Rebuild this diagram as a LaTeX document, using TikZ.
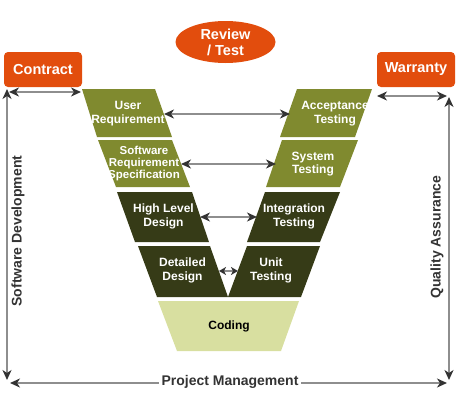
\documentclass[tikz,border=0pt]{standalone}
\usepackage{fontspec}
\setmainfont{Liberation Sans}
\usetikzlibrary{arrows.meta,shapes.geometric}
\definecolor{org}{HTML}{E24D0D}
\definecolor{oliv}{HTML}{808A2F}
\definecolor{darkoliv}{HTML}{363B17}
\definecolor{codec}{HTML}{D8DFA0}
\definecolor{linegray}{HTML}{8E8E8E}
\definecolor{headgray}{HTML}{333333}
\definecolor{txtgray}{HTML}{333333}
\begin{document}
\begin{tikzpicture}[x=1pt,y=-1pt,
  lbl/.style={text=white,font=\bfseries\fontsize{12}{13.5}\selectfont,align=center,inner sep=0pt},
  lblsm/.style={text=white,font=\bfseries\fontsize{11.5}{12}\selectfont,align=center,inner sep=0pt},
  obox/.style={fill=org,text=white,rounded corners=4pt,minimum width=78pt,minimum height=35pt,inner sep=0pt,font=\bfseries\fontsize{14.5}{16}\selectfont},
  side/.style={text=txtgray,font=\bfseries\fontsize{14}{16}\selectfont,inner sep=1pt},
  conn/.style={draw=linegray,line width=1.8pt,{Stealth[length=10pt,width=9pt,inset=3pt,color=headgray]}-{Stealth[length=10pt,width=9pt,inset=3pt,color=headgray]}},
  connsm/.style={draw=linegray,line width=1.8pt,{Stealth[length=7pt,width=8pt,inset=2pt,color=headgray]}-{Stealth[length=7pt,width=8pt,inset=2pt,color=headgray]}}
]
\useasboundingbox (0,0) rectangle (459,410);

% top boxes
\node[obox] (contract) at (43,69.5) {Contract};
\node[obox] (warranty) at (416,69.5) {Warranty};
\node[ellipse,fill=org,text=white,minimum width=100pt,minimum height=42pt,inner sep=0pt,align=center,font=\bfseries\fontsize{14.5}{16}\selectfont] (review) at (225.5,42) {Review\\/ Test};

% V shapes - left
\fill[oliv] (82,89) -- (155,89) -- (172,137) -- (97,137) -- cycle;
\fill[oliv] (98,140) -- (172,140) -- (190,187) -- (116,187) -- cycle;
\fill[darkoliv] (117,192) -- (192,192) -- (209,242) -- (135,242) -- cycle;
\fill[darkoliv] (138,246) -- (210,246) -- (228,297) -- (157,297) -- cycle;
% right
\fill[oliv] (297,89) -- (372,89) -- (355,137) -- (280,137) -- cycle;
\fill[oliv] (282,140) -- (358,140) -- (340,187) -- (266,187) -- cycle;
\fill[darkoliv] (265,192) -- (340,192) -- (320,242) -- (247,242) -- cycle;
\fill[darkoliv] (247,246) -- (320,246) -- (301,297) -- (228,297) -- cycle;
% coding
\fill[codec] (158,301) -- (299,301) -- (281,351) -- (177,351) -- cycle;

% labels
\node[lbl] (ur) at (128,113.5) {User\\Requirement};
\node[lblsm] (srs) at (144,164) {Software\\Requirement\\Specification};
\node[lbl] (hld) at (163.5,216.5) {High Level\\Design};
\node[lbl] (dd) at (182.5,270.5) {Detailed\\Design};
\node[lbl] (at) at (335,113.5) {Acceptance\\Testing};
\node[lbl] (st) at (313,164) {System\\Testing};
\node[lbl] (it) at (294,216.5) {Integration\\Testing};
\node[lbl] (ut) at (271,270.5) {Unit\\Testing};
\node[lbl,text=black] (coding) at (229,326) {Coding};

% arrow end coordinates
\coordinate (r1l) at (164,114); \coordinate (r1r) at (290,114);
\coordinate (r2l) at (181,164); \coordinate (r2r) at (276,164);
\coordinate (r3l) at (200,217); \coordinate (r3r) at (257,217);
\coordinate (r4l) at (219,271); \coordinate (r4r) at (238,271);
\draw[conn] (r1l) -- (r1r);
\draw[conn] (r2l) -- (r2r);
\draw[conn] (r3l) -- (r3r);
\draw[connsm] (r4l) -- (r4r);

% frame arrows
\coordinate (ctl) at (9,92); \coordinate (ctr) at (81,92);
\coordinate (wtl) at (377,96); \coordinate (wtr) at (447,96);
\coordinate (lvt) at (7,89); \coordinate (lvb) at (7,380);
\coordinate (rvt) at (449,97); \coordinate (rvb) at (449,380);
\coordinate (pml) at (10,383); \coordinate (pmr) at (447,383);
\draw[conn] (ctl) -- (ctr);
\draw[conn] (wtl) -- (wtr);
\draw[conn] (lvt) -- (lvb);
\draw[conn] (rvt) -- (rvb);
\draw[conn] (pml) -- (pmr);

\node[side,fill=white,inner xsep=3pt] (pm) at (230,382) {Project Management};
\node[side,rotate=90] (sd) at (18,231) {Software Development};
\node[side,rotate=90] (qa) at (437,237) {Quality Assurance};
\end{tikzpicture}
\end{document}
